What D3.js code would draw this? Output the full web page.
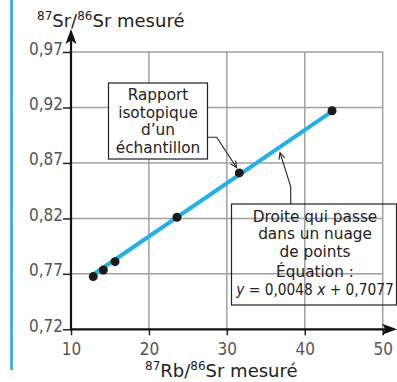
<!DOCTYPE html>
<html><head><meta charset="utf-8">
<script src="https://cdn.jsdelivr.net/npm/d3@7"></script>
<style>
html,body{margin:0;padding:0;background:#fff;}
svg{display:block;}
</style></head>
<body>
<svg id="chart" width="397" height="382"></svg>
<script>
// ---- data ----
const xTicks = [10, 20, 30, 40, 50];
const yTicks = [0.72, 0.77, 0.82, 0.87, 0.92, 0.97];
const sampleRb = [12.85, 14.15, 15.65, 23.6, 31.6, 43.5];
const sampleSr = [0.7675, 0.7735, 0.781, 0.821, 0.861, 0.917];
const fitLineX = [12.85, 43.5];
const fitLineY = [0.7694, 0.9165];
const noteSample = ["Rapport", "isotopique", "d\u2019un", "\u00e9chantillon"];
const noteLine = ["Droite qui passe", "dans un nuage", "de points", "\u00c9quation :"];

const svg = d3.select("#chart");
const x = d3.scaleLinear().domain([10, 50]).range([71, 382.7]);
const y = d3.scaleLinear().domain([0.72, 0.97]).range([329.3, 52]);
const fmt = d => d3.format(".2f")(d).replace(".", ",");
const tickFont = "'Liberation Sans Narrow','DejaVu Sans Condensed',sans-serif";
const textFont = "'DejaVu Sans',sans-serif";

// left blue margin line
svg.append("line").attr("x1", 11.5).attr("x2", 11.5).attr("y1", 0).attr("y2", 370)
  .attr("stroke", "#29abe2").attr("stroke-width", 2.6);

// grid
const grid = svg.append("g").attr("stroke", "#a0a0a0").attr("stroke-width", 1.5);
yTicks.slice(1).forEach(v => grid.append("line").attr("x1", x(10)).attr("x2", x(50)).attr("y1", y(v)).attr("y2", y(v)));
xTicks.slice(1).forEach(v => grid.append("line").attr("x1", x(v)).attr("x2", x(v)).attr("y1", y(0.72)).attr("y2", y(0.97)));

// annotation box 2 (transparent)
svg.append("rect").attr("x", 231.5).attr("y", 204).attr("width", 165).attr("height", 101)
  .attr("fill", "none").attr("stroke", "#222").attr("stroke-width", 1.2);

// fit line
svg.append("line").attr("x1", x(fitLineX[0])).attr("y1", y(fitLineY[0]))
  .attr("x2", x(fitLineX[1])).attr("y2", y(fitLineY[1]))
  .attr("stroke", "#22b1e6").attr("stroke-width", 4);

// points
svg.append("g").selectAll("circle").data(sampleRb).join("circle")
  .attr("cx", d => x(d)).attr("cy", (d, i) => y(sampleSr[i])).attr("r", 4.5).attr("fill", "#1a1a1a");

// axes
const xAxis = d3.axisBottom(x).tickValues(xTicks).tickSize(6).tickFormat(d3.format("d"));
const gx = svg.append("g").attr("transform", `translate(0,${y(0.72)})`).call(xAxis);
gx.select(".domain").remove();
gx.selectAll(".tick line").attr("stroke", "#222").attr("stroke-width", 1.5);
gx.selectAll(".tick text").attr("y", 26).attr("dy", 0).attr("fill", "#555")
  .style("font-family", tickFont).style("font-size", "17px");

const yAxis = d3.axisLeft(y).tickValues(yTicks).tickSize(8).tickFormat(fmt);
const gy = svg.append("g").attr("transform", `translate(${x(10)},0)`).call(yAxis);
gy.select(".domain").remove();
gy.selectAll(".tick line").attr("stroke", "#222").attr("stroke-width", 1.5);
gy.selectAll(".tick text").attr("x", -8).attr("dy", 2).attr("fill", "#555")
  .style("font-family", tickFont).style("font-size", "17px");

// axis lines with arrows
svg.append("line").attr("x1", x(10)).attr("x2", x(10)).attr("y1", y(0.72) + 1).attr("y2", 38)
  .attr("stroke", "#111").attr("stroke-width", 2.2);
svg.append("path").attr("d", `M${x(10)},29 L${x(10) + 5.5},44 L${x(10)},40.5 L${x(10) - 5.5},44 Z`).attr("fill", "#111");
svg.append("line").attr("x1", x(10) - 1).attr("x2", 389).attr("y1", y(0.72)).attr("y2", y(0.72))
  .attr("stroke", "#111").attr("stroke-width", 2.2);
svg.append("path").attr("d", `M397,${y(0.72)} L382,${y(0.72) + 5.5} L385.5,${y(0.72)} L382,${y(0.72) - 5.5} Z`).attr("fill", "#111");

// axis titles
const tTop = svg.append("text").attr("x", 37).attr("y", 26.5).attr("fill", "#222")
  .style("font-family", textFont).style("font-size", "18px");
tTop.append("tspan").attr("dy", -7).style("font-size", "12px").text("87");
tTop.append("tspan").attr("dy", 7).text("Sr/");
tTop.append("tspan").attr("dy", -7).style("font-size", "12px").text("86");
tTop.append("tspan").attr("dy", 7).text("Sr mesur\u00e9");

const tBot = svg.append("text").attr("x", 145).attr("y", 376.7).attr("fill", "#222")
  .style("font-family", textFont).style("font-size", "18px");
tBot.append("tspan").attr("dy", -7).style("font-size", "12px").text("87");
tBot.append("tspan").attr("dy", 7).text("Rb/");
tBot.append("tspan").attr("dy", -7).style("font-size", "12px").text("86");
tBot.append("tspan").attr("dy", 7).text("Sr mesur\u00e9");

// annotation box 1 (white)
svg.append("rect").attr("x", 108.5).attr("y", 83).attr("width", 99).attr("height", 76)
  .attr("fill", "#fff").attr("stroke", "#222").attr("stroke-width", 1.2);
const base1 = [100, 117.5, 135, 152.5];
svg.append("g").selectAll("text").data(noteSample).join("text")
  .attr("x", 158).attr("y", (d, i) => base1[i]).attr("text-anchor", "middle").attr("fill", "#222")
  .style("font-family", textFont).style("font-size", "15.3px").text(d => d);

const base2 = [221.7, 239.2, 256.7, 277, 295];
svg.append("g").selectAll("text").data(noteLine).join("text")
  .attr("x", 315).attr("y", (d, i) => base2[i]).attr("text-anchor", "middle").attr("fill", "#222")
  .style("font-family", textFont).style("font-size", "15.3px").text(d => d);
const eq = svg.append("text").attr("x", 315).attr("y", base2[4]).attr("text-anchor", "middle").attr("fill", "#222")
  .style("font-family", "'DejaVu Sans Condensed','DejaVu Sans',sans-serif").style("font-size", "15.3px");
eq.append("tspan").style("font-style", "italic").text("y");
eq.append("tspan").text(" = 0,0048 ");
eq.append("tspan").style("font-style", "italic").text("x");
eq.append("tspan").text(" + 0,7077");

// callout arrows
function callout(pts) {
  svg.append("path").attr("d", d3.line()(pts)).attr("fill", "none").attr("stroke", "#222").attr("stroke-width", 1.1);
  const [a, b] = pts.slice(-2);
  const ang = Math.atan2(b[1] - a[1], b[0] - a[0]);
  const L = 7, w = 0.45;
  const p1 = [b[0] - L * Math.cos(ang - w), b[1] - L * Math.sin(ang - w)];
  const p2 = [b[0] - L * Math.cos(ang + w), b[1] - L * Math.sin(ang + w)];
  svg.append("path").attr("d", d3.line()([p1, b, p2])).attr("fill", "none").attr("stroke", "#222").attr("stroke-width", 1.1);
}
callout([[207.5, 137.3], [216.7, 137.3], [236.5, 167.5]]);
callout([[290.7, 204], [290.7, 186.7], [280, 152.7]]);
</script>
</body></html>
